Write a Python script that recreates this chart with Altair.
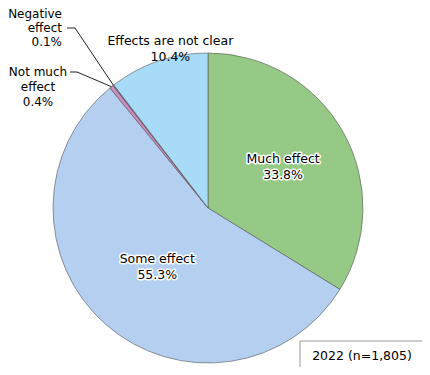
import math
import altair as alt
import pandas as pd

cats = ["Much effect", "Some effect", "Not much effect", "Negative effect", "Effects are not clear"]
vals = [33.8, 55.3, 0.4, 0.1, 10.4]
colors = ["#96C986", "#B5CFF0", "#CC8CC0", "#7C6AA8", "#A8DBF8"]
note = "2022 (n=1,805)"

FONT = "DejaVu Sans"
FS = 12.5
CX, CY, R = 200, 200, 155

df = pd.DataFrame({"cat": cats, "val": vals, "idx": list(range(len(cats)))})
df["label"] = [f"{c}\n{v}%" for c, v in zip(cats, vals)]

base = alt.Chart(df).encode(
    theta=alt.Theta("val:Q", stack=True),
    order=alt.Order("idx:Q"),
    x=alt.value(CX),
    y=alt.value(CY),
)

pie = base.mark_arc(radius=R, stroke="#555555", strokeWidth=0.6).encode(
    color=alt.Color("cat:N", scale=alt.Scale(domain=cats, range=colors), legend=None)
)


def inside(name, radius, halo, dx=0, dy=0):
    t = base.transform_calculate(
        t=f"datum.cat == '{name}' ? datum.label : ''"
    )
    layers = []
    if halo:
        layers.append(t.mark_text(radius=radius, lineBreak="\n", font=FONT, fontSize=FS,
                                  stroke="white", strokeWidth=3, strokeJoin="round",
                                  lineHeight=16, dx=dx, dy=dy).encode(text="t:N"))
    layers.append(t.mark_text(radius=radius, lineBreak="\n", font=FONT, fontSize=FS,
                              color="black", lineHeight=16, dx=dx, dy=dy).encode(text="t:N"))
    return layers


labels = inside("Much effect", 86, True, dy=-7) + inside("Some effect", 77, True, dy=-7) + \
    inside("Effects are not clear", 164, False, dx=15, dy=-12)

# leader lines for small slices
total = sum(vals)
cum = 0
mids = {}
for c, v in zip(cats, vals):
    mids[c] = (cum + v / 2) / total * 2 * math.pi
    cum += v


def edge(c):
    a = mids[c]
    return CX + R * math.sin(a), CY - R * math.cos(a)


ex1, ey1 = edge("Negative effect")
ex2, ey2 = edge("Not much effect")
lines = pd.DataFrame({
    "id": ["a", "a", "a", "b", "b", "b"],
    "s": [0, 1, 2, 0, 1, 2],
    "x": [59, 67, ex1, 62, 69, ex2],
    "y": [20, 20, ey1, 64, 64, ey2],
})
leader = alt.Chart(lines).mark_line(color="#222222", strokeWidth=1).encode(
    x=alt.X("x:Q", scale=None), y=alt.Y("y:Q", scale=None),
    detail="id:N", order="s:Q"
)

one = pd.DataFrame({"a": [0]})
neg_lab = alt.Chart(one).mark_text(
    text=["Negative", "effect", "0.1%"], align="right", font=FONT, fontSize=12,
    lineHeight=14, color="black"
).encode(x=alt.value(54), y=alt.value(6))
nm_lab = alt.Chart(one).mark_text(
    text=["Not much", "effect", "0.4%"], align="center", font=FONT, fontSize=12,
    lineHeight=15, color="black"
).encode(x=alt.value(30), y=alt.value(64))

box = alt.Chart(one).mark_rect(fill="white", stroke="#999999", strokeWidth=1).encode(
    x=alt.value(292), x2=alt.value(421), y=alt.value(333), y2=alt.value(364)
)
box_t = alt.Chart(one).mark_text(text=note, font=FONT, fontSize=FS, color="black").encode(
    x=alt.value(354), y=alt.value(348)
)

chart = alt.layer(pie, *labels, leader, neg_lab, nm_lab, box, box_t).properties(
    width=414, height=359, padding=0, autosize=alt.AutoSizeParams(type="none")
).configure_view(stroke=None)

chart.save("out.html", embed_options={"renderer": "svg", "actions": False})
